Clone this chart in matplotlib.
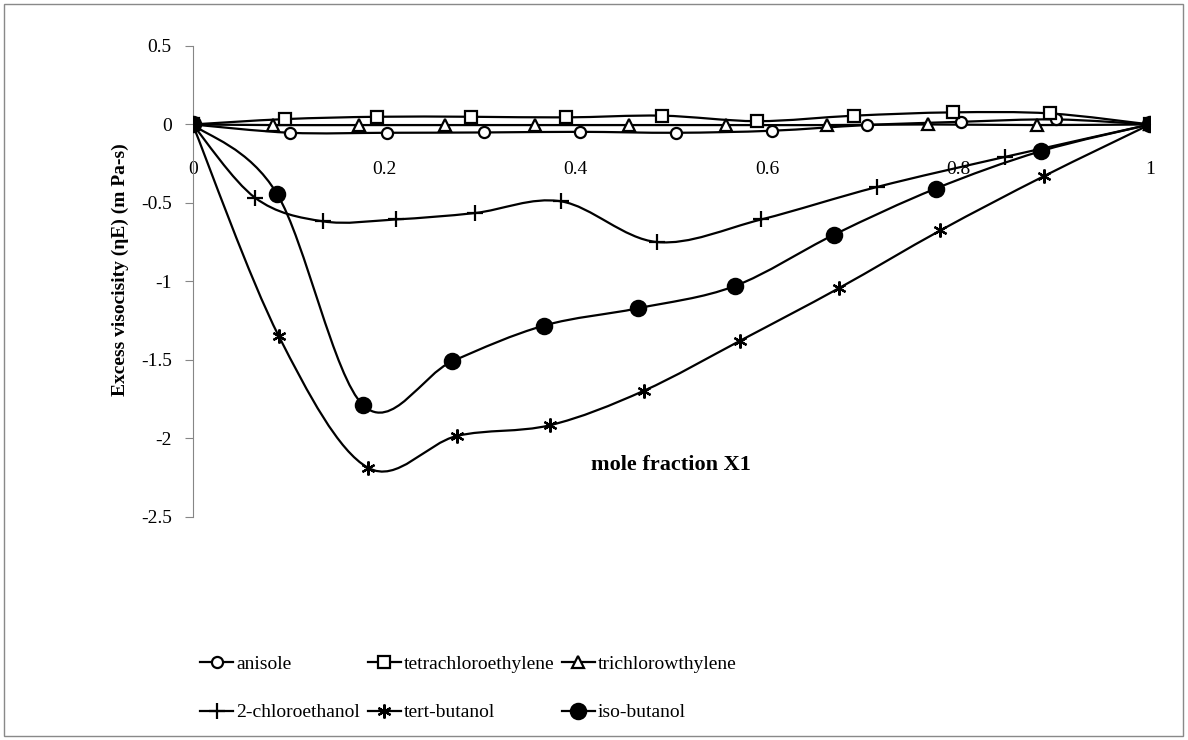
import numpy as np
import matplotlib
matplotlib.use('agg')
import matplotlib.pyplot as plt
from matplotlib.path import Path
from matplotlib.patches import PathPatch, Rectangle
from matplotlib.lines import Line2D

plt.rcParams['font.family'] = ['Liberation Serif', 'DejaVu Serif']

# mole fraction / excess viscosity values
x_anisole = [0, 0.102, 0.203, 0.304, 0.405, 0.505, 0.605, 0.704, 0.803, 0.902, 1]
y_anisole = [0, -0.053, -0.053, -0.051, -0.047, -0.053, -0.040, -0.004, 0.017, 0.032, 0]

x_tetra = [0, 0.096, 0.193, 0.291, 0.390, 0.490, 0.590, 0.691, 0.794, 0.896, 1]
y_tetra = [0, 0.034, 0.049, 0.049, 0.045, 0.056, 0.021, 0.056, 0.077, 0.070, 0]

x_tri = [0, 0.084, 0.174, 0.264, 0.358, 0.456, 0.557, 0.663, 0.768, 0.882, 1]
y_tri = [0, -0.004, -0.004, -0.004, -0.004, -0.004, -0.004, -0.004, 0.0, -0.004, 0]

x_chloro = [0, 0.065, 0.136, 0.212, 0.295, 0.385, 0.485, 0.594, 0.715, 0.849, 1]
y_chloro = [0, -0.466, -0.617, -0.605, -0.564, -0.490, -0.749, -0.605, -0.398, -0.206, 0]

x_tert = [0, 0.090, 0.183, 0.276, 0.373, 0.471, 0.572, 0.675, 0.781, 0.889, 1]
y_tert = [0, -1.349, -2.186, -1.984, -1.916, -1.697, -1.377, -1.043, -0.675, -0.330, 0]

x_iso = [0, 0.088, 0.178, 0.271, 0.367, 0.465, 0.566, 0.670, 0.776, 0.886, 1]
y_iso = [0, -0.441, -1.788, -1.509, -1.281, -1.171, -1.030, -0.702, -0.409, -0.170, 0]

names = ['anisole', 'tetrachloroethylene', 'trichlorowthylene',
         '2-chloroethanol', 'tert-butanol', 'iso-butanol']
xs = [x_anisole, x_tetra, x_tri, x_chloro, x_tert, x_iso]
ys = [y_anisole, y_tetra, y_tri, y_chloro, y_tert, y_iso]

xticks = [0, 0.2, 0.4, 0.6, 0.8, 1]
xticklabels = ['0', '0.2', '0.4', '0.6', '0.8', '1']
yticks = [-2.5, -2, -1.5, -1, -0.5, 0, 0.5]
yticklabels = ['-2.5', '-2', '-1.5', '-1', '-0.5', '0', '0.5']

# marker styles (marker, size, facecolor)
styles = [('o', 8, 'white'), ('s', 8, 'white'), ('^', 8, 'white'),
          ('+', 12, 'black'), ((6, 2, 0), 10, 'black'), ('o', 11, 'black')]


def smooth_path(x, y):
    # excel-like smoothed line: bezier segments through the points
    p = np.column_stack([x, y]).astype(float)
    n = len(p)
    verts = [p[0]]
    codes = [Path.MOVETO]
    for i in range(n - 1):
        p0 = p[i - 1] if i > 0 else p[i]
        p1 = p[i]
        p2 = p[i + 1]
        p3 = p[i + 2] if i + 2 < n else p[i + 1]
        verts += [p1 + (p2 - p0) / 6, p2 - (p3 - p1) / 6, p2]
        codes += [Path.CURVE4] * 3
    return Path(verts, codes)


fig = plt.figure(figsize=(11.88, 7.40), dpi=100)
ax = fig.add_axes([0.1622, 0.3014, 0.8058, 0.6365])

handles = []
for i in range(len(names)):
    m, ms, fc = styles[i]
    ax.add_patch(PathPatch(smooth_path(xs[i], ys[i]), fill=False,
                           edgecolor='black', lw=1.6, zorder=3))
    ax.plot(xs[i], ys[i], ls='none', marker=m, ms=ms, mfc=fc, mec='black',
            mew=1.6, zorder=4)
    handles.append(Line2D([], [], color='black', lw=1.6, marker=m, ms=ms,
                          mfc=fc, mec='black', mew=1.6))

ax.set_xlim(0, 1)
ax.set_ylim(-2.5, 0.5)
ax.set_xticks(xticks)
ax.set_xticklabels(xticklabels)
ax.set_yticks(yticks)
ax.set_yticklabels(yticklabels)

for s in ['top', 'right']:
    ax.spines[s].set_visible(False)
ax.spines['left'].set_color('#868686')
ax.spines['bottom'].set_position(('data', 0))
ax.spines['bottom'].set_color('#868686')
ax.tick_params(axis='y', direction='out', length=6, color='#868686',
               labelsize=14, pad=9)
ax.tick_params(axis='x', length=0, labelsize=14, pad=26)

ax.text(0.5, 0.11, 'mole fraction X1', transform=ax.transAxes, ha='center',
        va='center', fontsize=16, fontweight='bold')
fig.text(120 / 1188, 1 - 270 / 740, 'Excess visocisity (\u03b7E) (m Pa-s)',
         rotation=90, ha='center', va='center', fontsize=14, fontweight='bold')

# row-wise order like the excel legend
order = [0, 3, 1, 4, 2, 5]
fig.legend([handles[k] for k in order], [names[k] for k in order],
           loc='upper left', ncol=3, bbox_to_anchor=(200 / 1188, 1 - 655 / 740),
           frameon=False, fontsize=14, handlelength=1.7, handletextpad=0.15,
           columnspacing=0.4, labelspacing=1.6, borderpad=0, borderaxespad=0)

fig.patches.append(Rectangle((4 / 1188, 4 / 740), 1179 / 1188, 732 / 740,
                             transform=fig.transFigure, fill=False,
                             edgecolor='#898989', lw=1))

fig.savefig('out.png', dpi=100)
